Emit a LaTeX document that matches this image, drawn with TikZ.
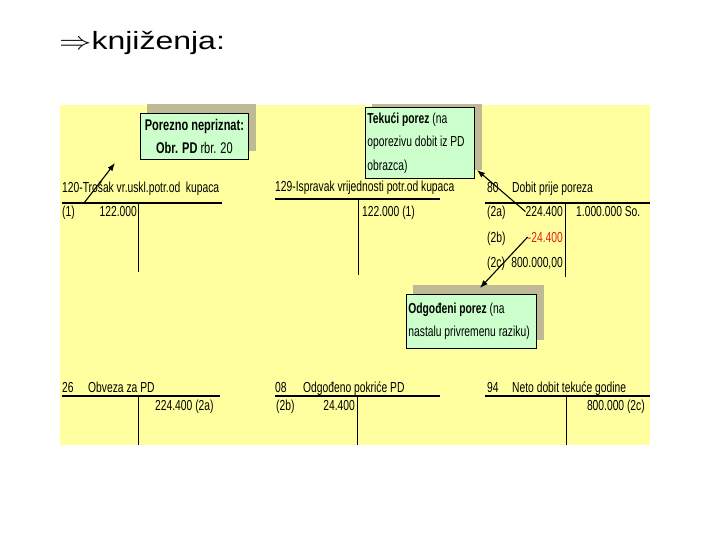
\documentclass[tikz,border=0pt]{standalone}
\usepackage{fontspec}
\newfontfamily\narrowfont[FakeStretch=0.71]{Liberation Sans}
\newfontfamily\titlefont[FakeStretch=1.28]{Liberation Sans}
\usetikzlibrary{arrows.meta, backgrounds}
\definecolor{slideyellow}{RGB}{255,255,160}
\definecolor{notegreen}{RGB}{204,255,204}
\definecolor{notegray}{RGB}{190,186,150}
\definecolor{minusred}{RGB}{225,30,30}

\begin{document}
\begin{tikzpicture}[
  x=1pt, y=-1pt,
  every node/.style={font=\narrowfont\fontsize{14.5}{23.5}\selectfont, inner sep=0pt},
  note/.style={rectangle, draw, line width=0.8pt, fill=notegreen, anchor=north west,
               inner xsep=2pt, inner ysep=2pt},
  lbl/.style={anchor=base west},
  amt/.style={anchor=base east},
  tline/.style={line width=1.2pt},
  vline/.style={line width=0.8pt},
  arr/.style={-{Latex[length=8pt,width=6pt]}, line width=1.1pt}
]
\useasboundingbox (0,0) rectangle (720,540);
% ── title ──────────────────────────────────────
\node[anchor=base west, font=\titlefont\fontsize{25}{30}\selectfont] (title) at (59,50)
  {\scalebox{1.3}[1]{$\Rightarrow$}knjiženja:};
% ── 120 ────────────────────────────────────────
\node[lbl] (t120) at (62,193) {120-Trošak vr.uskl.potr.od\ \ kupaca};
\draw[tline] (62,203) -- (222,203);
\draw[vline] (138,203) -- (138,272);
\node[lbl] (r120a) at (62,217) {(1)};
\node[amt] (r120b) at (137,217) {122.000};
% ── 129 ────────────────────────────────────────
\node[lbl] (t129) at (275,192) {129-Ispravak vrijednosti potr.od kupaca};
\draw[tline] (275,199) -- (440,199);
\draw[vline] (358,199) -- (358,275);
\node[lbl] (r129) at (362,217) {122.000 (1)};
% ── 80 ─────────────────────────────────────────
\node[lbl] (n80) at (487,193) {80};
\node[lbl] (t80) at (512,193) {Dobit prije poreza};
\draw[tline] (485,203) -- (650,203);
\draw[vline] (565,203) -- (565,277);
\node[lbl] (r80a) at (487,216.5) {(2a)};
\node[amt] (d80a) at (563,216.5) {224.400};
\node[lbl] (c80) at (576,216.5) {1.000.000 So.};
\node[lbl] (r80b) at (487,242) {(2b)};
\node[amt, text=minusred] (d80b) at (563,242) {-24.400};
\node[lbl] (r80c) at (487,267) {(2c)};
\node[amt] (d80c) at (563,267) {800.000,00};
% ── 26 ─────────────────────────────────────────
\node[lbl] (n26) at (62,392) {26};
\node[lbl] (t26) at (88,392) {Obveza za PD};
\draw[tline] (62,396) -- (220,396);
\draw[vline] (138,396) -- (138,445);
\node[lbl] (c26) at (155,410) {224.400 (2a)};
% ── 08 ─────────────────────────────────────────
\node[lbl] (n08) at (275,392) {08};
\node[lbl] (t08) at (303,392) {Odgođeno pokriće PD};
\draw[tline] (275,396) -- (440,396);
\draw[vline] (357,396) -- (357,445);
\node[lbl] (r08) at (276,410) {(2b)};
\node[amt] (d08) at (355,410) {24.400};
% ── 94 ─────────────────────────────────────────
\node[lbl] (n94) at (487,392) {94};
\node[lbl] (t94) at (512,392) {Neto dobit tekuće godine};
\draw[tline] (485,396) -- (650,396);
\draw[vline] (566,396) -- (566,445);
\node[amt] (c94) at (645,410) {800.000 (2c)};
% ── notes ──────────────────────────────────────
\node[note, align=center, minimum width=108pt, minimum height=46pt,
      font=\narrowfont\fontsize{15.5}{23.5}\selectfont] (nepr) at (140,113)
  {\textbf{Porezno nepriznat:}\\\textbf{Obr. PD} rbr. 20};
\node[note, text width=105pt, align=flush left, minimum height=71pt] (tek) at (365,107)
  {\textbf{Tekući porez} (na\\oporezivu dobit iz PD\\obrazca)};
\node[note, text width=126pt, align=flush left, minimum height=54pt] (odg) at (406,294)
  {\textbf{Odgođeni porez} (na\\nastalu privremenu raziku)};
% ── arrows ─────────────────────────────────────
\coordinate (t120foot) at (84,203);
\coordinate (neprtip) at (115,163);
\coordinate (tektip) at (477,170);
\coordinate (odgtip) at (480,288);
\draw[arr] (t120foot) -- (neprtip);
\draw[arr] (d80a.west) -- (tektip);
\draw[arr] (d80b.west) -- (odgtip);
% ── slide and shadows ──────────────────────────
\begin{scope}[on background layer]
  \fill[slideyellow] (60,105) rectangle (650,445);
  \clip (60,105) rectangle (650,445);
  \foreach \b in {nepr, tek, odg}
    \fill[notegray] ([shift={(7,-9)}]\b.south west) rectangle ([shift={(7,-9)}]\b.north east);
\end{scope}
\end{tikzpicture}
\end{document}
